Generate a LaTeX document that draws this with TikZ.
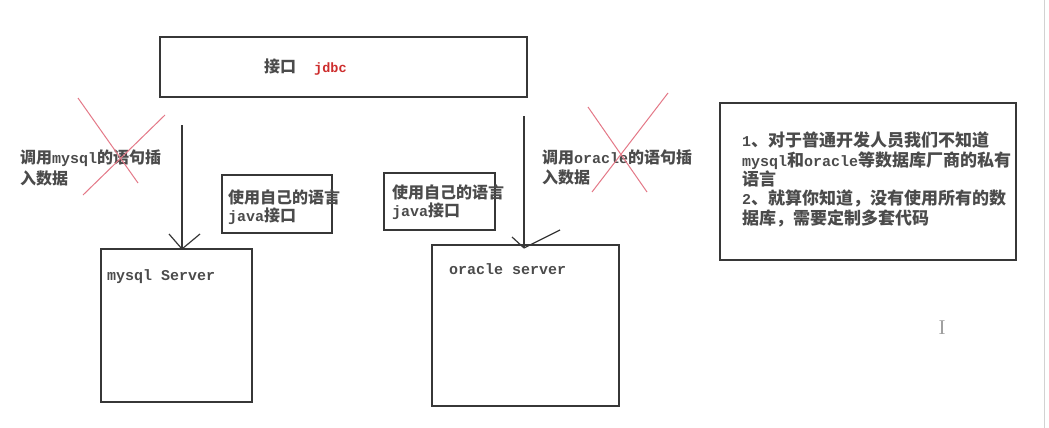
\documentclass[tikz,border=0pt]{standalone}
\usepackage{fontspec}
\newfontfamily\cjkf{Noto Sans CJK SC}
\newfontfamily\monof{Liberation Mono}
\newfontfamily\seriff{Liberation Serif}
\newcommand{\zhs}[1]{{\cjkf\bfseries #1}}
\newcommand{\ens}[1]{{\monof\bfseries #1}}
\definecolor{crossred}{RGB}{228,120,135}
\definecolor{jdbcred}{RGB}{205,45,45}
\definecolor{inkc}{RGB}{55,55,55}
\definecolor{textc}{RGB}{75,75,75}
\begin{document}
\begin{tikzpicture}[x=1pt,y=-1pt,
  box/.style={draw=inkc, line width=1.3pt, inner sep=0pt, outer sep=0pt, anchor=north west},
  txt/.style={inner sep=0pt, anchor=base west, text=textc, font=\fontsize{16}{19}\selectfont},
  bigtxt/.style={txt, font=\fontsize{17}{20}\selectfont},
  crossline/.style={draw=crossred, line width=1pt},
  arrowline/.style={draw=inkc, line width=1.2pt}
]
\useasboundingbox[fill=white] (0,0) rectangle (1049,428);
% screen edge
\draw[gray!35, line width=1pt] (1044,0) -- (1044,428);

% boxes
\node[box, minimum width=367pt, minimum height=60pt] (jdbc) at (160,37) {};
\node[box, minimum width=151pt, minimum height=153pt] (mysql) at (101,249) {};
\node[box, minimum width=187pt, minimum height=161pt] (oracle) at (432,245) {};
\node[box, minimum width=110pt, minimum height=58pt] (own1) at (222,175) {};
\node[box, minimum width=111pt, minimum height=57pt] (own2) at (384,173) {};
\node[box, minimum width=296pt, minimum height=157pt] (note) at (720,103) {};

% texts
\node[txt] (jdbcA) at (264,73) {\zhs{接口}};
\node[txt, text=jdbcred, font=\fontsize{13.5}{16}\selectfont] (jdbcB) at (314,73) {\ens{jdbc}};
\node[txt, font=\fontsize{15}{18}\selectfont] (mysqlT) at (107,280) {\ens{mysql Server}};
\node[txt, font=\fontsize{15}{18}\selectfont] (oracleT) at (449,274) {\ens{oracle server}};

\node[txt] (own1a) at (228,203) {\zhs{使用自己的语言}};
\node[txt] (own1b) at (228,221) {\fontsize{15}{18}\ens{java}\fontsize{16}{19}\zhs{接口}};
\node[txt] (own2a) at (392,198) {\zhs{使用自己的语言}};
\node[txt] (own2b) at (392,216) {\fontsize{15}{18}\ens{java}\fontsize{16}{19}\zhs{接口}};

\node[txt] (lab1a) at (20,163) {\zhs{调用}\fontsize{15}{18}\ens{mysql}\fontsize{16}{19}\zhs{的语句插}};
\node[txt] (lab1b) at (20,184) {\zhs{入数据}};
\node[txt] (lab2a) at (542,163) {\zhs{调用}\fontsize{15}{18}\ens{oracle}\fontsize{16}{19}\zhs{的语句插}};
\node[txt] (lab2b) at (542,183) {\zhs{入数据}};

\node[bigtxt] (n1) at (742,146) {\fontsize{15}{20}\ens{1}\fontsize{17}{20}\zhs{、对于普通开发人员我们不知道}};
\node[bigtxt] (n2) at (742,166) {\fontsize{15}{20}\ens{mysql}\fontsize{17}{20}\zhs{和}\fontsize{15}{20}\ens{oracle}\fontsize{17}{20}\zhs{等数据库厂商的私有}};
\node[bigtxt] (n3) at (742,185) {\zhs{语言}};
\node[bigtxt] (n4) at (742,204) {\fontsize{15}{20}\ens{2}\fontsize{17}{20}\zhs{、就算你知道，没有使用所有的数}};
\node[bigtxt] (n5) at (742,224) {\zhs{据库，需要定制多套代码}};

% cursor
\node[inner sep=0pt, text=gray!75, font=\seriff\fontsize{21}{21}\selectfont] (cursor) at (942,328) {I};

% arrows
\coordinate (lstart) at (182,125);
\draw[arrowline] (lstart) -- (lstart |- mysql.north) coordinate (ltip);
\draw[arrowline] (ltip) -- ++(-13,-15);
\draw[arrowline] (ltip) -- ++(18,-15);
\coordinate (rstart) at (524,116);
\draw[arrowline] (rstart) -- ([yshift=-3pt]rstart |- oracle.north) coordinate (rtip);
\draw[arrowline] (rtip) -- ++(-12,-11);
\draw[arrowline] (rtip) -- ++(36,-18);

% red crosses
\draw[crossline] (78,98) -- (138,183);
\draw[crossline] (165,115) -- (83,195);
\draw[crossline] (588,107) -- (647,192);
\draw[crossline] (668,93) -- (592,192);
\end{tikzpicture}
\end{document}
